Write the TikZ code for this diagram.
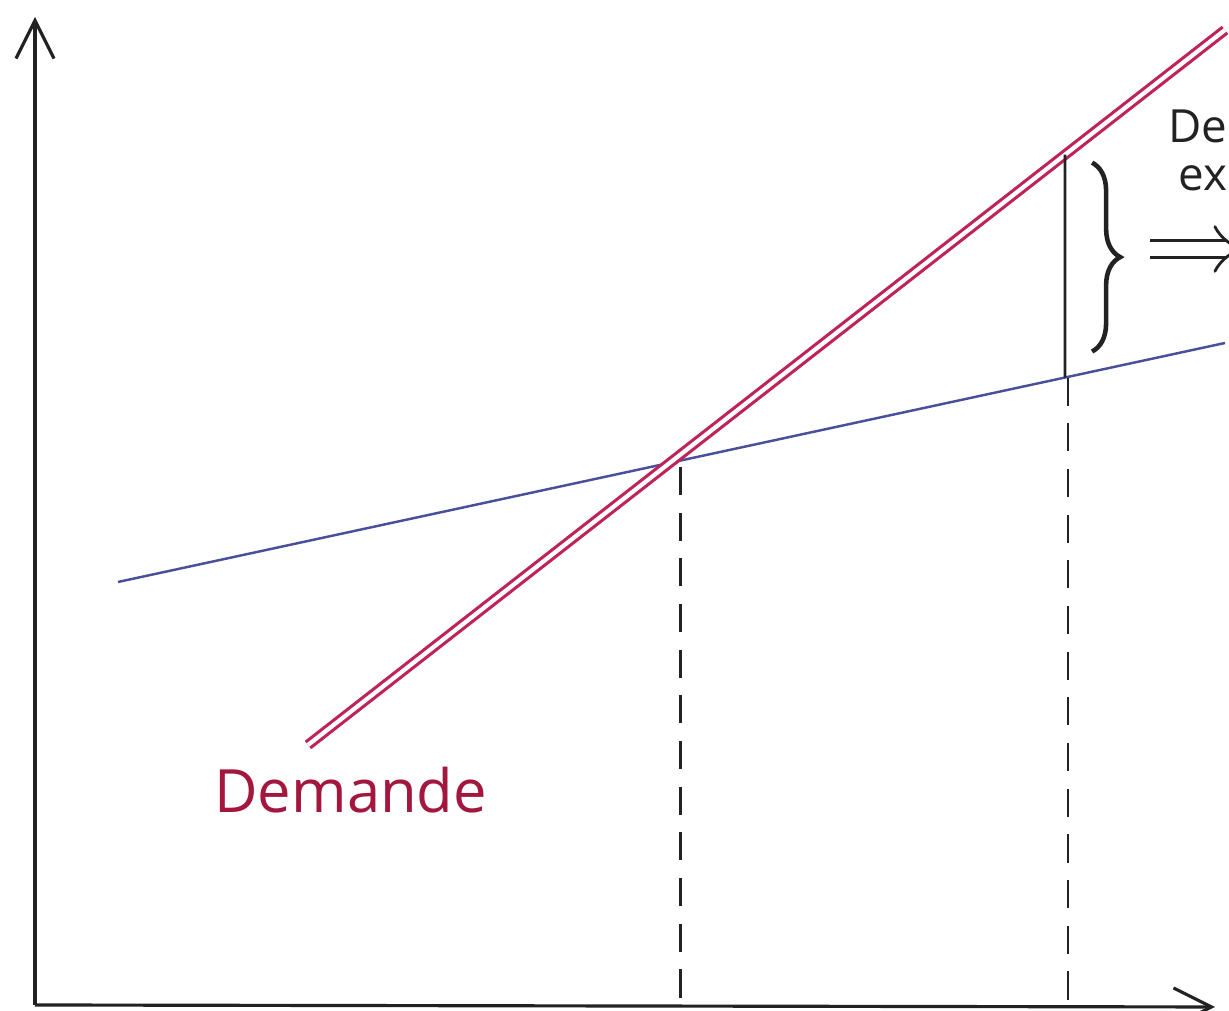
\documentclass[tikz,border=0pt]{standalone}
\usepackage{fontspec}
\setsansfont{Open Sans}
\usetikzlibrary{arrows.meta, calc, decorations.pathreplacing}
\definecolor{c1}{HTML}{222222}
\definecolor{c2}{HTML}{BE2456}
\definecolor{c3}{HTML}{4A4F9C}
\definecolor{labelcolor}{HTML}{A3173F}
\def\pw{12.29}
\def\ph{10.11}
\def\xq{10.65}

\begin{document}
\begin{tikzpicture}[
    every node/.style={font=\sffamily},
    axis/.style={draw=c1, line width=0.9pt, -{Straight Barb[length=3.8mm, width=3.8mm]}},
    demande/.style={draw=c2, line width=0.9pt, double=white, double distance=1.2pt},
    offre/.style={draw=c3, line width=0.7pt},
    guide/.style={draw=c1, line width=0.8pt, dash pattern=on 8pt off 5pt},
    gap/.style={draw=c1, line width=0.8pt},
    brc/.style={decorate, decoration={brace, amplitude=8pt}, draw=c1, line width=1.3pt},
    arr/.style={draw=c1, line width=0.8pt, double=white, double distance=4pt, -{Implies}},
    curvelab/.style={font=\sffamily\fontsize{17}{20}\selectfont, text=labelcolor, anchor=base west},
    notelab/.style={font=\sffamily\fontsize{13}{16}\selectfont, text=c1, anchor=base west},
]
\clip (0,0) rectangle (\pw,\ph);

% ---------------------------------------------------------- axes
\coordinate (O)  at (0.35, 0.06);
\coordinate (Yt) at (0.35, 9.94);
\coordinate (Xt) at (12.15, 0.04);
\draw[axis] (O) -- (Yt);
\draw[axis] (O) -- (Xt);

% ---------------------------------------------------------- the two curves
\coordinate (S1) at (1.18, 4.29);
\coordinate (S2) at (12.25, 6.68);
\coordinate (D1) at (3.08, 2.66);
\coordinate (D2) at (12.25, 9.81);
\draw[offre]   (S1) -- (S2);
\draw[demande] (D1) -- (D2);
\node[curvelab] (dem) at (2.02, 1.98) {Demande};

% ---------------------------------------------------------- equilibrium
\coordinate (E) at (intersection of S1--S2 and D1--D2);
\coordinate (Ef) at ($(E)+(0.11,-0.04)$);
\draw[guide] (Ef) -- (Ef |- O);

% ---------------------------------------------------------- the gap at a higher price
\coordinate (Qs) at (intersection of S1--S2 and \xq,0--\xq,10);
\coordinate (Qd) at (intersection of D1--D2 and \xq,0--\xq,10);
\draw[guide] ($(Qs)+(0.03,0)$) -- ($(Qs |- O)+(0.03,0)$);
\draw[gap]   (Qd) -- (Qs);
\coordinate (Bt) at ($(Qd)+(0.27,-0.08)$);
\coordinate (Bb) at ($(Qs)+(0.27,0.26)$);
\draw[brc] (Bt) -- (Bb);

% ---------------------------------------------------------- note, cut by the edge
\coordinate (At) at (11.50, 7.62);
\draw[arr] (At) -- ++(0.95, 0);
\node[notelab] (n1) at (11.56, 8.68) {De};
\node[notelab] (n2) at (11.66, 8.20) {ex};

\end{tikzpicture}
\end{document}
